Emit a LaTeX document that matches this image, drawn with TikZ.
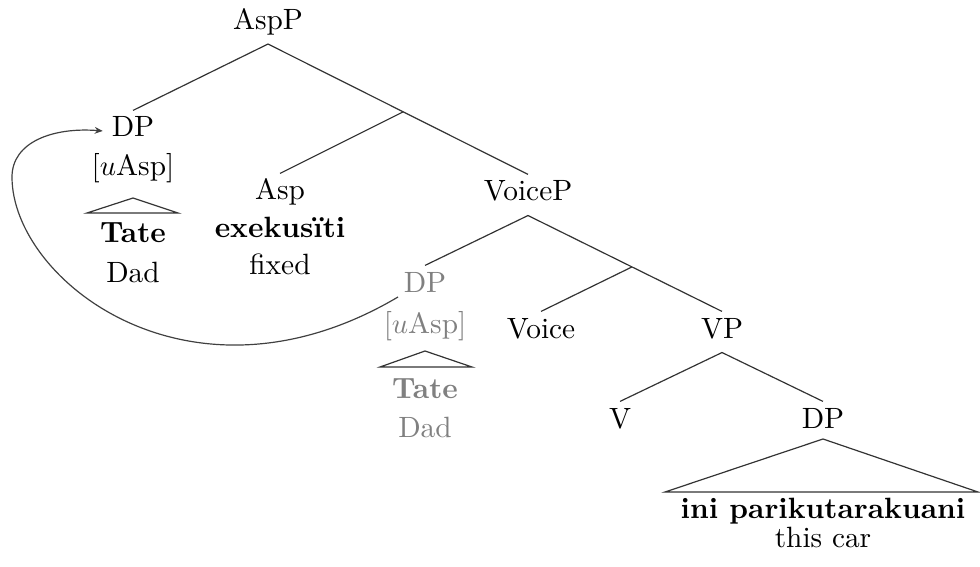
\documentclass[tikz,border=0pt]{standalone}
\usepackage{fontspec}
\usetikzlibrary{arrows.meta,calc}
\begin{document}
\begin{tikzpicture}[x=0.351pt,y=-0.351pt,
  every node/.style={font=\fontsize{10.3}{12.4}\selectfont},
  tnode/.style={inner xsep=3pt, inner ysep=2.2pt, text height=6.93pt, text depth=2.7pt, anchor=base},
  ltext/.style={inner sep=0pt, anchor=base},
  ghost/.style={text=black!50},
  edge/.style={line width=0.42pt, draw=black!80},
  roof/.style={line width=0.42pt, draw=black!80},
  move/.style={line width=0.42pt, draw=black!75, -{Stealth[length=2.8pt,width=2.4pt]}}
  ]
\useasboundingbox (0,0) rectangle (980,567);

% labelled tree nodes
\node[tnode] (aspp)   at (268,29.5) {AspP};
\node[tnode] (dp1)    at (133,137)  {DP};
\node[tnode] (asp)    at (280,200)  {Asp};
\node[tnode] (voicep) at (528,201)  {VoiceP};
\node[tnode,ghost] (dp2) at (425,292) {DP};
\node[tnode] (voice)  at (541,338)  {Voice};
\node[tnode] (vp)     at (722,338)  {VP};
\node[tnode] (v)      at (620,428)  {V};
\node[tnode] (dp3)    at (823,428)  {DP};

% extra lines under nodes
\node[ltext] (f1)    at (133,176) {[$u$Asp]};
\node[ltext] (tate1) at (133,243) {\textbf{Tate}};
\node[ltext] (dad1)  at (133,282) {Dad};
\node[ltext] (exe)   at (280,238) {\textbf{exekusïti}};
\node[ltext] (fixed) at (280,275) {fixed};
\node[ltext,ghost] (f2)    at (425,333) {[\textcolor{black!50}{$u$}Asp]};
\node[ltext,ghost] (tate2) at (425,398) {\textbf{Tate}};
\node[ltext,ghost] (dad2)  at (425,437) {Dad};
\node[ltext] (ini)   at (823,518) {\textbf{ini parikutarakuani}};
\node[ltext] (car)   at (823,547) {this car};

% unlabelled intermediate nodes
\coordinate (m1) at ($(aspp.south)!0.52!(voicep.north)$);
\coordinate (m2) at ($(voicep.south)!0.536!(vp.north)$);

% branches
\draw[edge] (aspp.south) -- (dp1.north);
\draw[edge] (aspp.south) -- (voicep.north);
\draw[edge] (m1) -- (asp.north);
\draw[edge] (voicep.south) -- (dp2.north);
\draw[edge] (voicep.south) -- (vp.north);
\draw[edge] (m2) -- (voice.north);
\draw[edge] (vp.south) -- (v.north);
\draw[edge] (vp.south) -- (dp3.north);

% roofs (triangles)
\coordinate (t1a) at (133,198);
\coordinate (t1l) at (87,213);
\coordinate (t1r) at (178,213);
\draw[roof] (t1a) -- (t1l) -- (t1r) -- cycle;
\coordinate (t2a) at (425,351);
\coordinate (t2l) at (380,367);
\coordinate (t2r) at (472,367);
\draw[roof] (t2a) -- (t2l) -- (t2r) -- cycle;
\coordinate (t3a) at (823,439);
\coordinate (t3l) at (665,492);
\coordinate (t3r) at (978,492);
\draw[roof] (t3a) -- (t3l) -- (t3r) -- cycle;

% movement arrow
\coordinate (arrS) at (398,297);
\draw[move] (arrS) .. controls (190,420) and (12,280) .. (12,177)
  .. controls (12,142) and (53,127) .. (dp1.west);
\end{tikzpicture}
\end{document}
